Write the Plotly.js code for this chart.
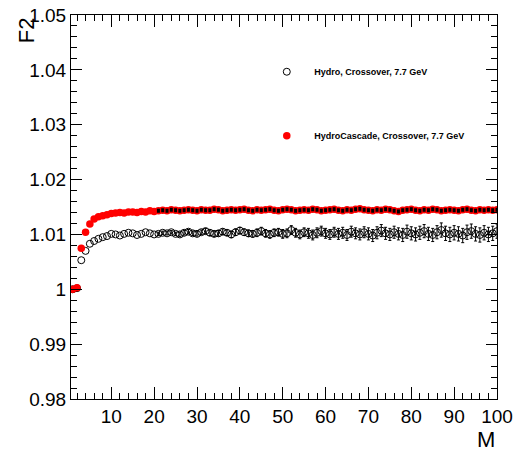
<!DOCTYPE html>
<html>
<head>
<meta charset="utf-8">
<script src="https://cdn.plot.ly/plotly-3.0.1.min.js"></script>
<style>html,body{margin:0;padding:0;background:#fff;}#chart{width:514px;height:457px;}</style>
</head>
<body>
<div id="chart"></div>
<script>
// Multiplicity M = 1..100
var M = [];
for (var i = 1; i <= 100; i++) M.push(i);

var hydroF2 = [
1.0000,1.0002,1.0053,1.0070,1.0083,1.0088,1.0092,1.0095,1.0097,1.0101,
1.0100,1.0098,1.0101,1.0103,1.0102,1.0099,1.0101,1.0104,1.0102,1.0100,
1.0101,1.0103,1.0102,1.0104,1.0101,1.0100,1.0103,1.0105,1.0102,1.0101,
1.0104,1.0106,1.0103,1.0101,1.0102,1.0105,1.0103,1.0100,1.0104,1.0107,
1.0104,1.0102,1.0101,1.0103,1.0106,1.0102,1.0100,1.0103,1.0104,1.0101,
1.0102,1.0108,1.0103,1.0100,1.0104,1.0102,1.0099,1.0103,1.0106,1.0102,
1.0100,1.0104,1.0101,1.0103,1.0099,1.0105,1.0102,1.0100,1.0104,1.0101,
1.0098,1.0103,1.0107,1.0102,1.0100,1.0104,1.0101,1.0099,1.0105,1.0102,
1.0100,1.0103,1.0106,1.0101,1.0099,1.0104,1.0108,1.0102,1.0100,1.0103,
1.0101,1.0098,1.0104,1.0106,1.0101,1.0099,1.0103,1.0100,1.0102,1.0106
];

var cascadeF2 = [
1.0000,1.0003,1.0075,1.0104,1.0119,1.0128,1.0132,1.0134,1.0136,1.0138,
1.0139,1.0140,1.0139,1.0141,1.0141,1.0140,1.0142,1.0141,1.0143,1.0142,
1.0143,1.0144,1.0143,1.0145,1.0144,1.0143,1.0144,1.0145,1.0144,1.0143,
1.0145,1.0144,1.0144,1.0146,1.0145,1.0143,1.0144,1.0145,1.0144,1.0145,
1.0146,1.0144,1.0143,1.0145,1.0144,1.0145,1.0146,1.0144,1.0143,1.0145,
1.0146,1.0145,1.0143,1.0144,1.0145,1.0144,1.0146,1.0145,1.0143,1.0144,
1.0145,1.0146,1.0144,1.0143,1.0145,1.0144,1.0146,1.0147,1.0145,1.0144,
1.0143,1.0145,1.0144,1.0146,1.0145,1.0143,1.0142,1.0144,1.0145,1.0146,
1.0144,1.0143,1.0145,1.0144,1.0146,1.0145,1.0143,1.0144,1.0145,1.0144,
1.0143,1.0145,1.0146,1.0144,1.0143,1.0145,1.0144,1.0145,1.0144,1.0145
];

// statistical errors, drawn from M = 21 on
var errStart = 20; // index of M = 21
var hydroErr = [
0.0003,0.0003,0.0003,0.0003,0.0003,0.0004,0.0004,0.0004,0.0004,0.0004,
0.0004,0.0005,0.0005,0.0005,0.0005,0.0005,0.0005,0.0006,0.0006,0.0006,
0.0006,0.0006,0.0006,0.0007,0.0007,0.0007,0.0007,0.0007,0.0007,0.0008,
0.0008,0.0008,0.0008,0.0008,0.0008,0.0009,0.0009,0.0009,0.0009,0.0009,
0.0009,0.0009,0.0010,0.0010,0.0010,0.0010,0.0010,0.0010,0.0010,0.0011,
0.0011,0.0011,0.0011,0.0011,0.0011,0.0011,0.0011,0.0012,0.0012,0.0012,
0.0012,0.0012,0.0012,0.0012,0.0012,0.0012,0.0013,0.0013,0.0013,0.0013,
0.0013,0.0013,0.0013,0.0013,0.0013,0.0013,0.0013,0.0013,0.0013,0.0013
];
var cascadeErr = [];
for (var k = 0; k < 80; k++) cascadeErr.push(0.00018);

var yTickVals = [0.98, 0.99, 1.00, 1.01, 1.02, 1.03, 1.04, 1.05];
var yTickText = ['0.98', '0.99', '1', '1.01', '1.02', '1.03', '1.04', '1.05'];
var xTickVals = [10, 20, 30, 40, 50, 60, 70, 80, 90, 100];
var xTickText = ['10', '20', '30', '40', '50', '60', '70', '80', '90', '100'];

var FONT = 'Liberation Sans, Arial, Helvetica, sans-serif';

var traces = [
  {
    x: M, y: hydroF2, type: 'scatter', mode: 'markers',
    name: 'Hydro, Crossover, 7.7 GeV', legendgroup: 'a',
    marker: {symbol: 'circle-open', size: 7, color: '#000', line: {width: 1, color: '#000'}}
  },
  {
    x: M, y: cascadeF2, type: 'scatter', mode: 'markers',
    name: 'HydroCascade, Crossover, 7.7 GeV', legendgroup: 'b',
    marker: {symbol: 'circle', size: 7.5, color: '#ff0000', line: {width: 0}}
  },
  {
    x: M.slice(errStart), y: hydroF2.slice(errStart), type: 'scatter', mode: 'markers',
    showlegend: false, hoverinfo: 'skip',
    marker: {size: 1, color: 'rgba(0,0,0,0)'},
    error_y: {type: 'data', array: hydroErr, visible: true, color: '#000', thickness: 1, width: 1.5}
  },
  {
    x: M.slice(errStart), y: cascadeF2.slice(errStart), type: 'scatter', mode: 'markers',
    showlegend: false, hoverinfo: 'skip',
    marker: {size: 1, color: 'rgba(0,0,0,0)'},
    error_y: {type: 'data', array: cascadeErr, visible: true, color: '#000', thickness: 2, width: 1.5}
  }
];

var layout = {
  width: 514, height: 457,
  margin: {l: 71, r: 17, t: 15, b: 58, pad: 0},
  paper_bgcolor: '#fff', plot_bgcolor: '#fff',
  font: {family: FONT, color: '#000'},
  showlegend: true,
  legend: {
    x: 0.442, y: 0.89, xanchor: 'left', yanchor: 'top',
    bgcolor: 'rgba(0,0,0,0)', borderwidth: 0,
    font: {family: FONT, size: 9, weight: 'bold', color: '#000'},
    traceorder: 'grouped', tracegroupgap: 45, itemwidth: 45
  },
  xaxis: {
    range: [0.6, 100], showgrid: false, zeroline: false,
    showline: true, linecolor: '#000', linewidth: 1, mirror: 'allticks',
    ticks: 'inside', ticklen: 12, tickwidth: 1, tickcolor: '#000',
    tickmode: 'array', tickvals: xTickVals, ticktext: xTickText,
    tickfont: {family: FONT, size: 19, color: '#000'},
    minor: {dtick: 2, tick0: 0, ticks: 'inside', ticklen: 6, tickwidth: 1, tickcolor: '#000', showgrid: false}
  },
  yaxis: {
    range: [0.98, 1.05], showgrid: false, zeroline: false,
    showline: true, linecolor: '#000', linewidth: 1, mirror: 'allticks',
    ticks: 'inside', ticklen: 11, tickwidth: 1, tickcolor: '#000',
    tickmode: 'array', tickvals: yTickVals, ticktext: yTickText,
    tickfont: {family: FONT, size: 19, color: '#000'},
    minor: {dtick: 0.002, tick0: 0.98, ticks: 'inside', ticklen: 6, tickwidth: 1, tickcolor: '#000', showgrid: false}
  },
  annotations: [
    {text: 'F2', xref: 'paper', yref: 'paper', x: -0.105, y: 1.0, xanchor: 'center', yanchor: 'top',
     textangle: -90, showarrow: false, font: {family: FONT, size: 22, color: '#000'}},
    {text: 'M', xref: 'paper', yref: 'paper', x: 1.0, y: -0.068, xanchor: 'right', yanchor: 'top',
     showarrow: false, font: {family: FONT, size: 22, color: '#000'}}
  ]
};

Plotly.newPlot('chart', traces, layout, {displayModeBar: false, staticPlot: true});
</script>
</body>
</html>
